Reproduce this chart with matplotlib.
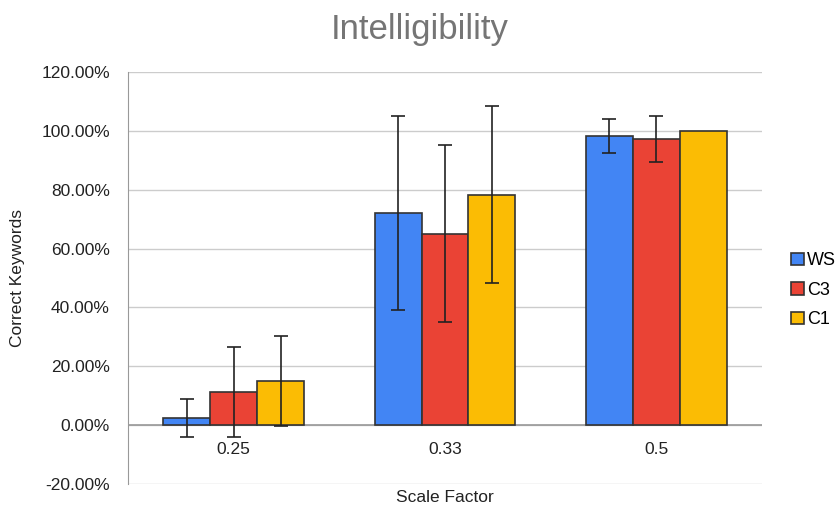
import numpy as np
import matplotlib.pyplot as plt
from matplotlib.ticker import FuncFormatter

plt.rcParams['font.family'] = ['Liberation Sans', 'DejaVu Sans']

# data
scale_factors = ['0.25', '0.33', '0.5']
series_names = ['WS', 'C3', 'C1']
ws_mean = [0.023, 0.72, 0.982]
c3_mean = [0.111, 0.651, 0.972]
c1_mean = [0.151, 0.783, 1.0]
ws_err = [0.065, 0.33, 0.057]
c3_err = [0.153, 0.30, 0.077]
c1_err = [0.153, 0.30, 0.0]

colors = ['#4285F4', '#EA4335', '#FBBC04']

fig = plt.figure(figsize=(8.4, 5.12), dpi=100)
ax = fig.add_axes([0.1524, 0.0547, 0.7548, 0.8047])

x = np.arange(len(scale_factors))
width = 0.222
means = [ws_mean, c3_mean, c1_mean]
errs = [ws_err, c3_err, c1_err]
for i, (m, e) in enumerate(zip(means, errs)):
    pos = x + (i - 1) * width
    ax.bar(pos, m, width, color=colors[i], edgecolor='#333333', linewidth=1.2,
           label=series_names[i], zorder=3)
    e_plot = np.array(e)
    mask = e_plot > 0
    ax.errorbar(pos[mask], np.array(m)[mask], yerr=e_plot[mask], fmt='none',
                ecolor='#222222', elinewidth=1.2, capsize=5, capthick=1.2, zorder=4)

ax.set_xlim(-0.5, 2.5)
ax.set_ylim(-0.2, 1.2)
ax.set_yticks(np.arange(-0.2, 1.21, 0.2))
ax.yaxis.set_major_formatter(FuncFormatter(lambda v, p: '%.2f%%' % (v * 100)))
ax.set_xticks(x)
ax.set_xticklabels(scale_factors)
# category labels sit just under the zero line
ax.spines['bottom'].set_position(('data', 0))
ax.tick_params(axis='both', length=0, labelsize=12.5, colors='#222222')
ax.tick_params(axis='y', pad=13)
ax.tick_params(axis='x', pad=12)
ax.grid(axis='y', color='#cccccc', linewidth=1, zorder=0)
ax.axhline(0, color='#999999', linewidth=1.2, zorder=2)
for s in ['top', 'right', 'bottom']:
    ax.spines[s].set_visible(False)
ax.spines['left'].set_color('#999999')

fig.suptitle('Intelligibility', fontsize=25, color='#757575', x=0.5, y=1 - 30 / 512, va='center')
fig.text(18 / 840, 1 - 278 / 512, 'Correct Keywords', rotation=90, fontsize=12.5,
         color='#222222', ha='center', va='center')
fig.text(0.1524 + 0.7548 / 2, 1 - 497 / 512, 'Scale Factor', fontsize=12.5,
         color='#222222', ha='center', va='center')

leg = ax.legend(loc='center left', bbox_to_anchor=(1.02, 0.47), frameon=False,
                fontsize=13, handlelength=0.7, handleheight=0.7, handletextpad=0.2,
                labelspacing=0.7)

fig.savefig('out.png', dpi=100)
